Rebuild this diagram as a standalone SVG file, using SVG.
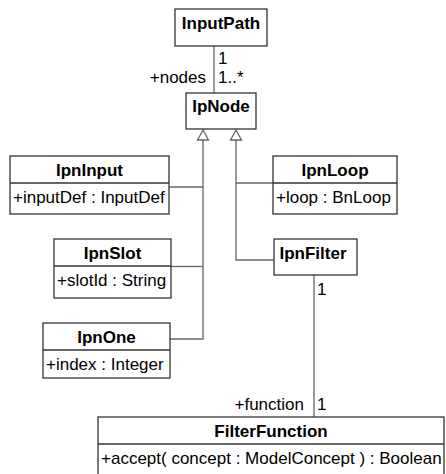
<svg xmlns="http://www.w3.org/2000/svg" width="446" height="474" viewBox="0 0 446 474">
<style>
.box{fill:#fff;stroke:#333;stroke-width:1.3}
.sep{stroke:#333;stroke-width:1.3}
.con{fill:none;stroke:#666;stroke-width:1.3}
.tri{fill:#fff;stroke:#666;stroke-width:1.3}
text{font-family:"Liberation Sans",Arial,sans-serif;font-size:17px;fill:#000}
.name{font-weight:bold;text-anchor:middle}
.end{text-anchor:end}
</style>
<rect width="446" height="474" fill="#fff"/>
<g id="connectors">
<line class="con" x1="214" y1="46" x2="214" y2="93"/>
<polyline class="con" points="203,140 203,339 170,339"/>
<line class="con" x1="169" y1="187" x2="203" y2="187"/>
<line class="con" x1="171" y1="266.5" x2="203" y2="266.5"/>
<polyline class="con" points="236,140 236,260 274,260"/>
<line class="con" x1="236" y1="183" x2="273" y2="183"/>
<polygon class="tri" points="203,130 197.5,140 208.5,140"/>
<polygon class="tri" points="236,130 230.5,140 241.5,140"/>
<line class="con" x1="314" y1="275" x2="314" y2="417"/>
<text x="218" y="64">1</text>
<text x="218" y="83">1..*</text>
<text class="end" x="206" y="83">+nodes</text>
<text x="317" y="295">1</text>
<text class="end" x="304" y="410">+function</text>
<text x="317" y="410">1</text>
</g>
<g id="InputPath">
<rect class="box" x="175" y="9" width="92" height="37"/>
<text class="name" x="221" y="29">InputPath</text>
</g>
<g id="IpNode">
<rect class="box" x="186" y="93" width="70" height="36"/>
<text class="name" x="221" y="112">IpNode</text>
</g>
<g id="IpnInput">
<rect class="box" x="10" y="156" width="159" height="58"/>
<line class="sep" x1="10" y1="183" x2="169" y2="183"/>
<text class="name" x="89.5" y="176">IpnInput</text>
<text x="13" y="203">+inputDef : InputDef</text>
</g>
<g id="IpnLoop">
<rect class="box" x="273" y="156" width="124" height="58"/>
<line class="sep" x1="273" y1="183" x2="397" y2="183"/>
<text class="name" x="335" y="176">IpnLoop</text>
<text x="276" y="203">+loop : BnLoop</text>
</g>
<g id="IpnSlot">
<rect class="box" x="54" y="239" width="117" height="59"/>
<line class="sep" x1="54" y1="266" x2="171" y2="266"/>
<text class="name" x="112.5" y="259">IpnSlot</text>
<text x="57" y="286">+slotId : String</text>
</g>
<g id="IpnFilter">
<rect class="box" x="274" y="239" width="83" height="36"/>
<text class="name" x="313" y="259">IpnFilter</text>
</g>
<g id="IpnOne">
<rect class="box" x="43" y="323" width="127" height="55"/>
<line class="sep" x1="43" y1="350" x2="170" y2="350"/>
<text class="name" x="106.5" y="343">IpnOne</text>
<text x="46" y="370">+index : Integer</text>
</g>
<g id="FilterFunction">
<rect class="box" x="98" y="417" width="346" height="60"/>
<line class="sep" x1="98" y1="444" x2="444" y2="444"/>
<text class="name" x="271" y="437">FilterFunction</text>
<text x="101" y="464">+accept( concept : ModelConcept ) : Boolean</text>
</g>
</svg>
